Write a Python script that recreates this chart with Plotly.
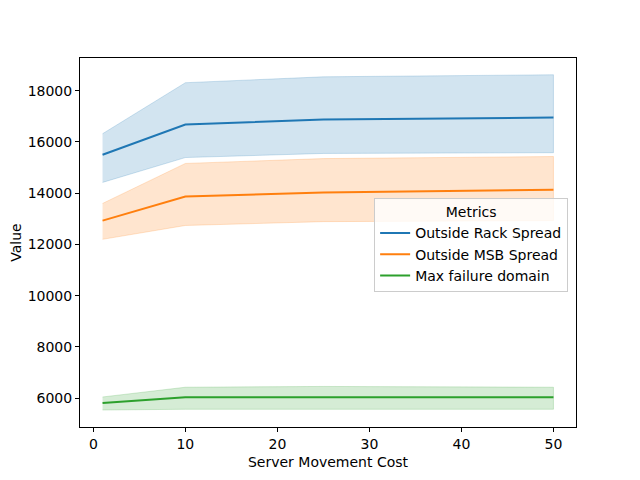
import plotly.graph_objects as go

x_vals = [1, 10, 25, 50]
series_names = ["Outside Rack Spread", "Outside MSB Spread", "Max failure domain"]
mean_rack = [15500, 16680, 16870, 16950]
upper_rack = [16320, 18310, 18540, 18620]
lower_rack = [14420, 15390, 15550, 15580]
mean_msb = [12930, 13870, 14030, 14130]
upper_msb = [13600, 15160, 15350, 15430]
lower_msb = [12200, 12740, 12890, 12930]
mean_fail = [5810, 6040, 6040, 6040]
upper_fail = [6050, 6430, 6460, 6430]
lower_fail = [5540, 5570, 5570, 5570]

colors = ["#1f77b4", "#ff7f0e", "#2ca02c"]
fills = ["rgba(31,119,180,0.2)", "rgba(255,127,14,0.2)", "rgba(44,160,44,0.2)"]

data = [(mean_rack, upper_rack, lower_rack),
        (mean_msb, upper_msb, lower_msb),
        (mean_fail, upper_fail, lower_fail)]

fig = go.Figure()
for name, (m, u, l), c, f in zip(series_names, data, colors, fills):
    fig.add_trace(go.Scatter(x=x_vals + x_vals[::-1], y=u + l[::-1], fill="toself",
                             mode="lines", fillcolor=f, line=dict(color=f, width=1),
                             showlegend=False, hoverinfo="skip"))
for name, (m, u, l), c in zip(series_names, data, colors):
    fig.add_trace(go.Scatter(x=x_vals, y=m, mode="lines", name=name,
                             line=dict(color=c, width=2)))

axis_common = dict(showline=True, linecolor="black", linewidth=1, mirror=True,
                   ticks="outside", ticklen=4, tickcolor="black", showgrid=False,
                   zeroline=False, automargin=False, tickfont=dict(size=14, color="black"))
fig.update_layout(
    width=640, height=480,
    margin=dict(l=72, r=72, t=50, b=61),
    plot_bgcolor="white", paper_bgcolor="white",
    font=dict(family="DejaVu Sans", size=14, color="black"),
    xaxis=dict(range=[-1.45, 52.45], tickvals=[0, 10, 20, 30, 40, 50],
               title=dict(text="Server Movement Cost", font=dict(size=14), standoff=6), **axis_common),
    yaxis=dict(range=[4878, 19274], tickvals=[6000, 8000, 10000, 12000, 14000, 16000, 18000],
               tickformat="d",
               title=dict(text="Value", font=dict(size=14), standoff=12), **axis_common),
    legend=dict(x=0.593, y=0.62, xanchor="left", yanchor="top",
                bgcolor="rgba(255,255,255,0.8)", bordercolor="#cccccc", borderwidth=1,
                title=dict(text="Metrics", side="top center", font=dict(size=14)),
                font=dict(size=14), tracegroupgap=0),
)
fig.write_html("out.html")
